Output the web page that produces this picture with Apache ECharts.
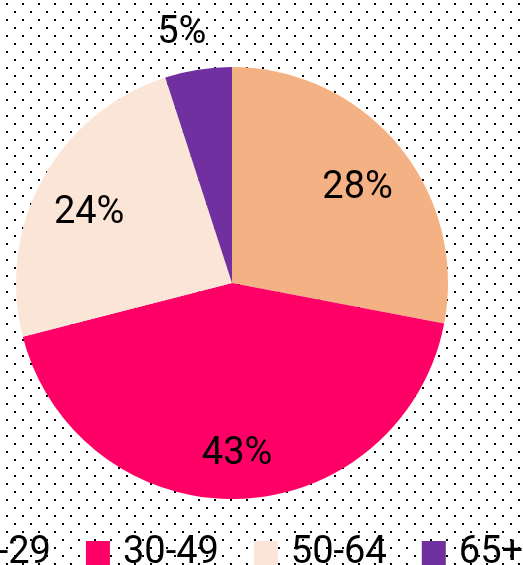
<!DOCTYPE html>
<html>
<head>
<meta charset="utf-8">
<script src="https://cdn.jsdelivr.net/npm/echarts@6/dist/echarts.min.js"></script>
<style>
html, body { margin: 0; padding: 0; background: #fff; }
#chart { width: 523px; height: 565px; }
</style>
</head>
<body>
<div id="chart"></div>
<script>
var ageGroups = ['18-29', '30-49', '50-64', '65+'];
var shares = [28, 43, 24, 5];
var sliceColors = ['#F4B183', '#FF0066', '#FBE5D6', '#7030A0'];

// dotted backdrop, same tile as the slide background
function dotTile() {
    var c = document.createElement('canvas');
    c.width = 16;
    c.height = 16;
    var ctx = c.getContext('2d');
    ctx.fillStyle = '#ffffff';
    ctx.fillRect(0, 0, 16, 16);
    ctx.fillStyle = '#000000';
    ctx.fillRect(6, 3, 2, 2);
    ctx.fillRect(14, 11, 2, 2);
    return c;
}

var font = 'Roboto';
var myChart = echarts.init(document.getElementById('chart'));

var slices = ageGroups.map(function (name, i) {
    return { name: name, value: shares[i], itemStyle: { color: sliceColors[i] } };
});

// second, invisible ring only carries the labels further out
var labelSlices = ageGroups.map(function (name, i) {
    var item = { name: name, value: shares[i] };
    if (shares[i] < 10) {
        item.label = { position: 'outside', distanceToLabelLine: -14, formatter: '{c}%' };
        item.labelLine = { show: false, length: 37, length2: 0 };
    }
    return item;
});

var option = {
    backgroundColor: { image: dotTile(), repeat: 'repeat' },
    animation: false,
    legend: {
        data: ageGroups,
        left: -87,
        top: 529,
        width: 900,
        icon: 'rect',
        itemWidth: 24,
        itemHeight: 24,
        itemGap: 35,
        textStyle: { fontFamily: font, fontSize: 38, color: '#000', padding: [0, 0, 0, 8] }
    },
    series: [
        {
            name: 'age',
            type: 'pie',
            center: [232, 283],
            radius: 216,
            startAngle: 90,
            clockwise: true,
            label: { show: false },
            labelLine: { show: false },
            emphasis: { disabled: true },
            data: slices
        },
        {
            name: 'ageLabels',
            type: 'pie',
            center: [232, 283],
            radius: [104, 216],
            startAngle: 90,
            clockwise: true,
            silent: true,
            itemStyle: { color: 'rgba(0,0,0,0)' },
            label: {
                show: true,
                position: 'inside',
                formatter: '{s|}\n{c}%',
                fontFamily: font,
                fontSize: 38,
                lineHeight: 44,
                color: '#000',
                rich: { s: { fontSize: 10, lineHeight: 18 } }
            },
            labelLine: { show: false },
            emphasis: { disabled: true },
            data: labelSlices
        }
    ]
};
myChart.setOption(option);
</script>
</body>
</html>
